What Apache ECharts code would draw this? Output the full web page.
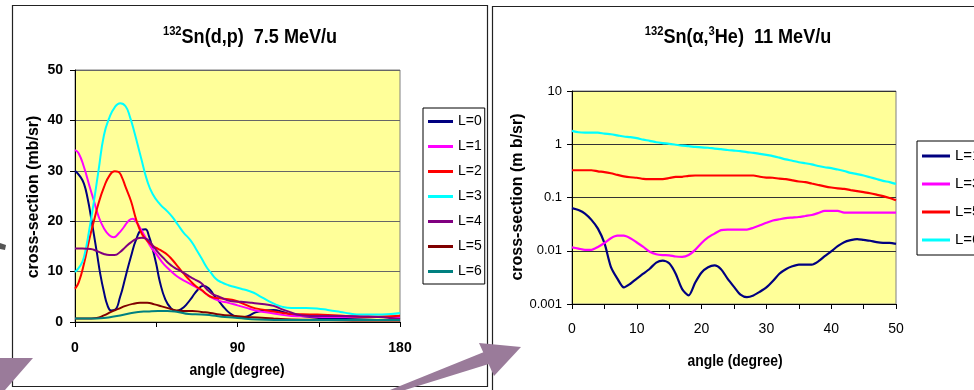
<!DOCTYPE html>
<html>
<head>
<meta charset="utf-8">
<script src="https://cdn.jsdelivr.net/npm/echarts@6.0.0/dist/echarts.min.js"></script>
<style>
  html, body { margin: 0; padding: 0; background: #ffffff; }
  #chart { width: 974px; height: 390px; }
</style>
</head>
<body>
<div id="chart"></div>
<script>
// ---- 132Sn(d,p) 7.5 MeV/u : angular distributions, [angle (deg), cross-section (mb/sr)] ----
const dpL0 = [[0,30],[3,28.8],[5,27.4],[7,24.5],[9,20.5],[12,14],[14,9.5],[16,6.0],[18,3.3],[20,2.3],[22,2.4],[25,5.0],[28,9],[31,13],[34,16.5],[37,18.3],[39,18.4],[41,17],[43,14.5],[45,11.5],[47,8],[50,4.5],[53,2.8],[56,2.2],[59,2.6],[62,3.6],[65,5.0],[68,6.4],[71,7.2],[74,6.7],[77,5.3],[80,4.0],[83,2.7],[86,1.7],[89,1.1],[92,0.9],[96,1.2],[100,1.9],[105,2.3],[110,2.4],[115,2.0],[120,1.5],[130,1.0],[140,0.7],[150,0.6],[160,0.5],[170,0.4],[180,0.4]];
const dpL1 = [[0,34.1],[2,33.5],[5,30.7],[8,27],[10.5,24],[13,21],[16,18.6],[19,17.2],[21.5,16.8],[24,17.5],[27,18.8],[30,20.2],[32,20.5],[34,19.8],[36.5,18.4],[39,16.8],[42,14.9],[45,13.5],[48,12],[51,10.8],[55,9.5],[58,8.7],[62,7.9],[66,7.1],[70,6.3],[75,5.0],[80,4.2],[85,3.8],[90,3.3],[95,2.8],[100,2.3],[110,1.7],[120,1.2],[130,1.1],[140,1.0],[160,1.0],[180,1.0]];
const dpL2 = [[0,6.6],[2,7.8],[5,11.6],[8,16.5],[10.5,20.1],[13,23.5],[16,26.7],[19,29],[22,29.9],[24,29.8],[26,28.7],[28,26.8],[31,24],[34,20.2],[37,17.5],[40,16.1],[43,15.1],[46,14.5],[48,14.1],[51,13.4],[54,12.3],[57,11],[60,9.7],[64,8.1],[67,7.1],[70,6.4],[73,5.5],[76,4.9],[80,4.7],[85,4.5],[88,4.3],[92,3.8],[96,3.2],[100,2.7],[105,2.4],[110,2.1],[115,1.8],[120,1.6],[130,1.5],[140,1.4],[150,1.2],[160,1.0],[170,1.1],[180,1.25]];
const dpL3 = [[0,9.9],[3,11.2],[5,12.9],[8,18.5],[10.5,24],[13,30],[16,37],[19,40.5],[22,42.6],[25,43.4],[28,42.8],[30.5,40.6],[33,37.5],[36.5,32.7],[40,28],[43,25.4],[47,23.4],[51,22],[54,20.8],[57,19.3],[60,17.8],[64,16.2],[67,14.5],[70,12.7],[73,10.8],[75,9.9],[78,8.6],[81,7.9],[85,7.3],[88,7.0],[92,6.6],[96,6.2],[99,5.8],[103,5.0],[107,4.2],[111,3.5],[115,3.0],[120,2.8],[128,2.8],[134,2.7],[140,2.4],[147,2.0],[152,1.7],[156,1.5],[165,1.5],[175,1.6],[180,1.8]];
const dpL4 = [[0,14.6],[4,14.6],[8.7,14.5],[12,14.1],[16,13.5],[19,13.3],[22,13.3],[25,13.9],[28,14.9],[31,15.8],[34,16.5],[37,16.7],[40,16.4],[43,15.2],[46,13.8],[49,12.7],[52,11.6],[55,10.8],[58,10.2],[61,9.6],[64,8.9],[67,8.3],[70,7.7],[73,6.5],[76,5.6],[80,5.0],[83,4.5],[87,4.1],[92,4.0],[98,3.8],[105,3.5],[110,3.2],[114,2.6],[118,2.1],[122,1.6],[126,1.3],[135,1.2],[147,1.2],[160,1.1],[168,1.0],[175,0.8],[180,0.6]];
const dpL5 = [[0,0.7],[6,0.7],[12,0.8],[16,1.3],[20,2.0],[24,2.6],[28,3.2],[32,3.6],[36,3.8],[40,3.8],[44,3.5],[48,3.1],[52,2.7],[56,2.3],[60,2.2],[65,2.2],[70,2.0],[75,1.8],[80,1.5],[88,1.2],[95,1.0],[101,0.9],[110,0.7],[120,0.5],[140,0.4],[160,0.3],[180,0.3]];
const dpL6 = [[0,0.7],[8,0.7],[16,0.8],[20,1.0],[25,1.3],[30,1.7],[35,2.0],[40,2.1],[46,2.2],[51,2.2],[57,2.0],[63,1.6],[70,1.5],[76,1.3],[83,1.0],[90,0.8],[101,0.5],[120,0.4],[140,0.4],[160,0.4],[180,0.4]];

// ---- 132Sn(alpha,3He) 11 MeV/u : one value per degree, 0..50 ----
const heAngles = Array.from({ length: 51 }, (_, i) => i);
const heL1 = [0.063,0.058,0.050,0.038,0.026,0.014,0.005,0.003,0.00205,0.0024,
              0.003,0.0037,0.0046,0.006,0.0065,0.0058,0.0037,0.0019,0.00145,0.0025,
              0.0039,0.0049,0.0053,0.0045,0.003,0.0021,0.0015,0.00135,0.00145,0.0017,
              0.00205,0.0027,0.0037,0.0045,0.0051,0.0055,0.0055,0.0055,0.0063,0.0079,
              0.0097,0.0122,0.0145,0.0158,0.0166,0.016,0.0154,0.0145,0.0141,0.0141,0.0135];
const heL3 = [0.0116,0.011,0.0104,0.0104,0.0118,0.014,0.0172,0.0192,0.0192,0.0172,
              0.0143,0.0118,0.0096,0.0086,0.0083,0.0082,0.0078,0.0077,0.0083,0.0104,
              0.014,0.0178,0.021,0.0244,0.025,0.025,0.025,0.025,0.027,0.030,
              0.0335,0.037,0.039,0.041,0.042,0.043,0.045,0.047,0.051,0.056,
              0.056,0.056,0.052,0.052,0.052,0.052,0.052,0.052,0.052,0.052,0.052];
const heL5 = [0.325,0.325,0.325,0.325,0.31,0.30,0.285,0.266,0.25,0.24,
              0.235,0.224,0.222,0.222,0.222,0.232,0.244,0.245,0.255,0.259,
              0.259,0.259,0.259,0.259,0.259,0.259,0.259,0.259,0.259,0.245,
              0.237,0.235,0.226,0.222,0.21,0.2,0.195,0.183,0.172,0.162,
              0.154,0.148,0.145,0.138,0.132,0.126,0.12,0.113,0.106,0.098,0.089];
const heL6 = [1.78,1.68,1.65,1.65,1.65,1.58,1.54,1.47,1.40,1.36,
              1.30,1.22,1.16,1.09,1.05,1.02,0.98,0.94,0.92,0.89,
              0.87,0.86,0.83,0.81,0.78,0.76,0.74,0.71,0.69,0.66,
              0.63,0.60,0.56,0.52,0.49,0.46,0.44,0.42,0.39,0.37,
              0.355,0.335,0.315,0.29,0.275,0.259,0.24,0.222,0.205,0.195,0.18];

// labels
const dpLegend = ['L=0','L=1','L=2','L=3','L=4','L=5','L=6'];
const heLegend = ['L=1','L=3','L=5','L=6'];
const heYTicks = ['0.001','0.01','0.1','1','10'];

const FONT = '"Liberation Sans", Arial, sans-serif';
const C = { navy:'#000080', magenta:'#FF00FF', red:'#FF0000', cyan:'#00FFFF', purple:'#800080', maroon:'#800000', teal:'#008080' };
const MAUVE = '#9A7B9A';

const dpColors = [C.navy, C.magenta, C.red, C.cyan, C.purple, C.maroon, C.teal];
const heColors = [C.navy, C.magenta, C.red, C.cyan];
const dpData = [dpL0, dpL1, dpL2, dpL3, dpL4, dpL5, dpL6];
const heData = [heL1, heL3, heL5, heL6];

// series names carry a panel prefix so the two legends stay independent
const dpNames = dpLegend.map(n => 'dp ' + n);
const heNames = heLegend.map(n => 'he ' + n);
const stripPrefix = name => name.slice(name.indexOf(' ') + 1);

const series = [];
dpData.forEach((d, i) => series.push({
  name: dpNames[i], type: 'line', xAxisIndex: 0, yAxisIndex: 0,
  data: d, smooth: true, symbol: 'none', showSymbol: false,
  color: dpColors[i], lineStyle: { width: 2, color: dpColors[i] }, itemStyle: { color: dpColors[i] }
}));
heData.forEach((d, i) => series.push({
  name: heNames[i], type: 'line', xAxisIndex: 1, yAxisIndex: 1,
  data: heAngles.map((a, k) => [a, d[k]]), smooth: 0.25, symbol: 'none', showSymbol: false,
  color: heColors[i], lineStyle: { width: 2.2, color: heColors[i] }, itemStyle: { color: heColors[i] }
}));

const legendBase = {
  orient: 'vertical', icon: 'rect', itemHeight: 3, itemGap: 0,
  borderColor: '#000', borderWidth: 1, backgroundColor: '#fff',
  selectedMode: false, formatter: stripPrefix
};

// condensed bold text (narrow horizontally, tall vertically)
function txt(text, x, y, size, weight, rot, sx) {
  return {
    type: 'text', x: x, y: y, rotation: rot || 0, scaleX: sx || 1, z: 50,
    style: {
      text: text, fill: '#000', font: weight + ' ' + size + 'px ' + FONT,
      align: 'center', verticalAlign: 'middle', textAlign: 'center', textVerticalAlign: 'middle'
    }
  };
}
function richTitle(text, x, y) {
  return {
    type: 'text', x: x, y: y, scaleX: 0.86, z: 50,
    style: {
      text: text, fill: '#000', align: 'center', verticalAlign: 'middle',
      textAlign: 'center', textVerticalAlign: 'middle',
      font: 'bold 21px ' + FONT,
      rich: {
        m: { fontSize: 21, fontWeight: 'bold', fontFamily: FONT, fill: '#000', lineHeight: 24, verticalAlign: 'middle' },
        s: { fontSize: 13, fontWeight: 'bold', fontFamily: FONT, fill: '#000', lineHeight: 12, verticalAlign: 'top' }
      }
    }
  };
}

const option = {
  animation: false,
  backgroundColor: '#ffffff',
  grid: [
    { left: 75, top: 70, width: 325, height: 252, show: true, backgroundColor: '#FFFF99', borderColor: '#808080', borderWidth: 1, containLabel: false },
    { left: 572, top: 91, width: 324, height: 213, show: true, backgroundColor: '#FFFF99', borderColor: '#808080', borderWidth: 1, containLabel: false }
  ],
  xAxis: [
    {
      type: 'value', gridIndex: 0, min: 0, max: 180, interval: 45,
      axisLine: { lineStyle: { color: '#000', width: 1 } },
      axisTick: { show: true, length: 5, lineStyle: { color: '#000' } },
      splitLine: { show: false },
      axisLabel: { margin: 19, color: '#000', fontSize: 14, fontWeight: 'bold', fontFamily: FONT,
                   formatter: v => (v % 90 === 0 ? String(v) : '') }
    },
    {
      type: 'value', gridIndex: 1, min: 0, max: 50, interval: 5,
      axisLine: { lineStyle: { color: '#000', width: 1 } },
      axisTick: { show: true, length: 5, lineStyle: { color: '#000' } },
      splitLine: { show: false },
      axisLabel: { margin: 18, color: '#000', fontSize: 14, fontFamily: FONT,
                   formatter: v => (v % 10 === 0 ? String(v) : '') }
    }
  ],
  yAxis: [
    {
      type: 'value', gridIndex: 0, min: 0, max: 50, interval: 10,
      axisLine: { show: true, lineStyle: { color: '#000', width: 1 } },
      axisTick: { show: true, length: 5, lineStyle: { color: '#000' } },
      splitLine: { show: true, lineStyle: { color: '#666666', width: 1 } },
      axisLabel: { margin: 12, color: '#000', fontSize: 14, fontWeight: 'bold', fontFamily: FONT }
    },
    {
      type: 'log', gridIndex: 1, logBase: 10, min: 0.001, max: 10,
      axisLine: { show: true, lineStyle: { color: '#000', width: 1 } },
      axisTick: { show: true, length: 5, lineStyle: { color: '#000' } },
      minorTick: { show: false },
      splitLine: { show: true, lineStyle: { color: '#333333', width: 1 } },
      axisLabel: { margin: 10, color: '#000', fontSize: 13, fontFamily: FONT,
                   formatter: v => heYTicks[Math.round(Math.log10(v)) + 3] }
    }
  ],
  legend: [
    Object.assign({}, legendBase, {
      data: dpNames, left: 423, top: 108, itemWidth: 25, padding: [1, 3, 0, 5],
      textStyle: { fontSize: 14, fontFamily: FONT, color: '#000', lineHeight: 25 }
    }),
    Object.assign({}, legendBase, {
      data: heNames, left: 917, top: 141, itemWidth: 28, padding: [1, 4, 1, 5],
      textStyle: { fontSize: 15, fontFamily: FONT, color: '#000', lineHeight: 28 }
    })
  ],
  series: series,
  graphic: { elements: [
    // panel frames
    { type: 'rect', z: 1, shape: { x: 12.5, y: 5.5, width: 475, height: 381 }, style: { fill: null, stroke: '#222', lineWidth: 1.2 } },
    { type: 'rect', z: 1, shape: { x: 492.5, y: 6.5, width: 520, height: 420 }, style: { fill: null, stroke: '#222', lineWidth: 1.2 } },
    // titles
    richTitle('{s|132}{m|Sn(d,p)  7.5 MeV/u}', 250, 37),
    richTitle('{s|132}{m|Sn(α,}{s|3}{m|He)  11 MeV/u}', 738, 37),
    // axis titles
    txt('angle (degree)', 237, 371, 16, 'bold', 0, 0.87),
    txt('angle (degree)', 735, 362, 16, 'bold', 0, 0.87),
    txt('cross-section (mb/sr)', 34, 197, 16, 'bold', Math.PI / 2),
    txt('cross-section (m b/sr)', 518, 197, 16, 'bold', Math.PI / 2),
    // slide decorations: arrows
    { type: 'polygon', z: 60, shape: { points: [[0, 358], [33, 358], [5, 390], [0, 390]] }, style: { fill: MAUVE } },
    { type: 'polygon', z: 60, shape: { points: [[0, 243], [6, 245], [5, 250], [0, 249]] }, style: { fill: '#555' } },
    { type: 'polygon', z: 60, shape: { points: [[390, 390], [405, 390], [492, 363], [484, 352]] }, style: { fill: MAUVE } },
    { type: 'polygon', z: 60, shape: { points: [[479, 343], [521, 347], [494, 376]] }, style: { fill: MAUVE } }
  ] }
};

const chart = echarts.init(document.getElementById('chart'), null, { renderer: 'canvas' });
chart.setOption(option);
</script>
</body>
</html>
